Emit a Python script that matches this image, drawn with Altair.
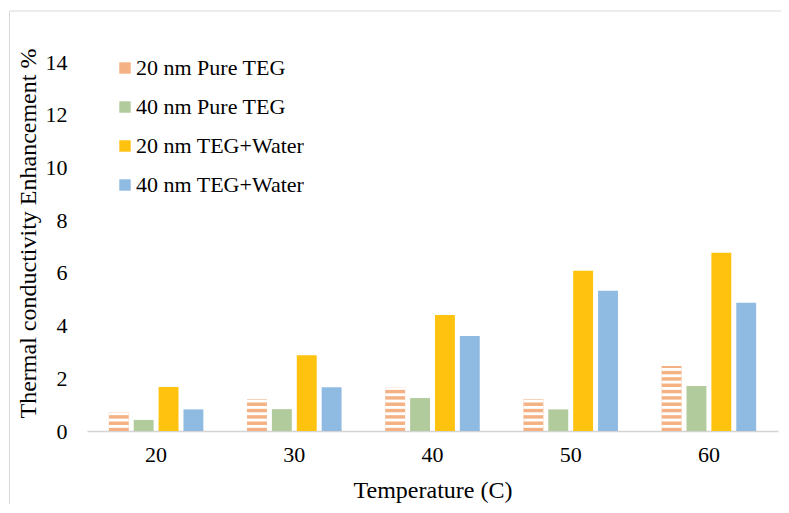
import altair as alt
import pandas as pd

temps = ["20", "30", "40", "50", "60"]
series = ["20 nm Pure TEG", "40 nm Pure TEG", "20 nm TEG+Water", "40 nm TEG+Water"]
pure20 = [0.72, 1.21, 1.66, 1.21, 2.47]
pure40 = [0.42, 0.83, 1.25, 0.82, 1.71]
water20 = [1.67, 2.87, 4.40, 6.08, 6.76]
water40 = [0.82, 1.66, 3.60, 5.32, 4.87]
y_ticks = [0, 2, 4, 6, 8, 10, 12, 14]
colors = ["#F4B183", "#B2CB9C", "#FFC20E", "#8FBBE3"]

rows = []
for s, vals in zip(series, [pure20, pure40, water20, water40]):
    for t, v in zip(temps, vals):
        rows.append({"temp": t, "series": s, "value": v})
df = pd.DataFrame(rows)

FONT = "Liberation Serif, Times New Roman, serif"

x_enc = alt.X("temp:N", scale=alt.Scale(domain=temps, paddingInner=0.28, paddingOuter=0.14),
              axis=alt.Axis(title="Temperature (C)", labelAngle=0, ticks=False, tickSize=0,
                            labelPadding=13, labelFontSize=22, labelFont=FONT, labelColor="#000000",
                            domainColor="#D4D4D4", domainWidth=1.5,
                            titleFontSize=24, titleFont=FONT, titleFontWeight="normal",
                            titleColor="#000000", titleY=66, titleBaseline="alphabetic"))
xo_enc = alt.XOffset("series:N", scale=alt.Scale(domain=series, paddingInner=0.2, paddingOuter=0.1))
y_scale = alt.Scale(domain=[0, 14], nice=False, zero=True)

bars = alt.Chart(df).mark_bar().encode(
    x=x_enc,
    xOffset=xo_enc,
    y=alt.Y("value:Q", scale=y_scale,
            axis=alt.Axis(values=y_ticks, title="Thermal conductivity Enhancement %",
                          domain=False, ticks=False, tickSize=0, grid=False,
                          labelPadding=20, labelFontSize=22, labelFont=FONT, labelColor="#000000",
                          titleFontSize=24, titleFont=FONT, titleFontWeight="normal",
                          titleColor="#000000", titleX=-52, titleY=171,
                          titleBaseline="alphabetic")),
    color=alt.Color("series:N", scale=alt.Scale(domain=series, range=colors),
                    legend=alt.Legend(title=None, orient="none", legendX=27, legendY=-5,
                                      symbolType="square", symbolSize=130, symbolStrokeWidth=0,
                                      labelFontSize=22, labelFont=FONT, labelColor="#000000",
                                      labelLimit=400,
                                      rowPadding=17, labelOffset=0, padding=0)),
)

stripes = alt.Chart(df).transform_filter(
    alt.datum.series == series[0]
).transform_calculate(
    s="sequence(0.12, datum.value, 0.24)"
).transform_flatten(["s"]).transform_calculate(
    s2="min(datum.s + 0.11, datum.value)"
).mark_bar(color="white").encode(
    x=alt.X("temp:N"),
    xOffset=alt.XOffset("series:N"),
    y=alt.Y("s:Q"),
    y2="s2:Q",
)

frame_df = pd.DataFrame({"a": [0]})
left_border = alt.Chart(frame_df).mark_rule(color="#D9D9D9", strokeWidth=1).encode(
    x=alt.value(-77.5), y=alt.value(-51), y2=alt.value(470))
top_border = alt.Chart(frame_df).mark_rule(color="#D9D9D9", strokeWidth=1).encode(
    x=alt.value(-77.5), x2=alt.value(720), y=alt.value(-51))

chart = alt.layer(bars, stripes, left_border, top_border).properties(
    width=691, height=369,
    autosize=alt.AutoSizeParams(type="none"),
    padding={"left": 79, "top": 54, "right": 3, "bottom": 73},
).configure(
    background="white", font=FONT
).configure_view(stroke=None).configure_axis(
    labelFont=FONT, titleFont=FONT
).configure_legend(labelFont=FONT)

chart.save("out.html", embed_options={"renderer": "svg", "actions": False})
